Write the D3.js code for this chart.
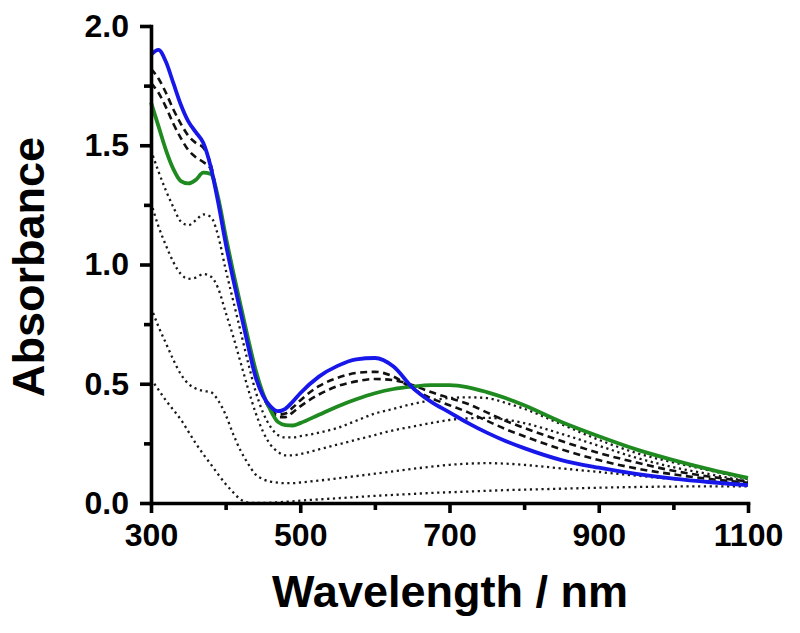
<!DOCTYPE html>
<html><head><meta charset="utf-8">
<script src="https://cdn.jsdelivr.net/npm/d3@7"></script>
<style>body{margin:0;background:#fff}</style>
</head><body><svg id="c" width="800" height="633"></svg>
<script>
// ---- data ----
const wavelengths = [300,310,320,330,340,350,360,370,380,390,400,410,420,430,440,450,460,470,480,490,500,525,550,575,600,625,650,675,700,725,750,775,800,850,900,950,1000,1050,1100];
const blueSeries   = [1.88,1.90,1.85,1.76,1.67,1.60,1.555,1.51,1.41,1.26,1.09,0.94,0.80,0.66,0.53,0.45,0.405,0.385,0.395,0.425,0.46,0.53,0.575,0.602,0.608,0.572,0.485,0.425,0.38,0.335,0.295,0.26,0.23,0.18,0.148,0.122,0.102,0.087,0.075];
const greenSeries  = [1.68,1.58,1.48,1.40,1.35,1.34,1.355,1.385,1.38,1.28,1.12,0.97,0.83,0.69,0.56,0.46,0.39,0.34,0.327,0.325,0.335,0.37,0.405,0.435,0.46,0.478,0.488,0.494,0.494,0.485,0.465,0.44,0.41,0.34,0.28,0.225,0.18,0.14,0.105];
const dashedA      = [1.82,1.78,1.72,1.65,1.59,1.54,1.51,1.49,1.42,1.27,1.10,0.95,0.81,0.67,0.54,0.45,0.395,0.37,0.375,0.40,0.43,0.49,0.525,0.545,0.55,0.53,0.48,0.44,0.41,0.38,0.345,0.31,0.28,0.225,0.18,0.145,0.12,0.10,0.085];
const dashedB      = [1.76,1.72,1.66,1.59,1.53,1.48,1.45,1.43,1.40,1.27,1.11,0.96,0.82,0.68,0.55,0.45,0.39,0.36,0.36,0.38,0.405,0.455,0.49,0.51,0.52,0.515,0.495,0.465,0.44,0.415,0.38,0.345,0.315,0.26,0.21,0.17,0.135,0.11,0.09];
const dotted1      = [1.48,1.39,1.31,1.24,1.18,1.165,1.185,1.21,1.20,1.12,0.98,0.85,0.72,0.59,0.47,0.38,0.32,0.285,0.275,0.275,0.28,0.295,0.315,0.345,0.375,0.395,0.415,0.43,0.44,0.443,0.44,0.42,0.395,0.33,0.265,0.21,0.17,0.135,0.10];
const dotted2      = [1.26,1.16,1.08,1.01,0.96,0.94,0.945,0.96,0.95,0.90,0.80,0.70,0.59,0.48,0.38,0.30,0.245,0.215,0.20,0.20,0.205,0.225,0.245,0.265,0.285,0.305,0.32,0.335,0.348,0.355,0.357,0.35,0.335,0.29,0.24,0.19,0.15,0.12,0.09];
const dotted3      = [0.82,0.74,0.67,0.60,0.54,0.50,0.48,0.47,0.465,0.43,0.37,0.29,0.22,0.165,0.12,0.10,0.09,0.085,0.083,0.083,0.086,0.094,0.103,0.113,0.123,0.133,0.143,0.152,0.16,0.165,0.167,0.165,0.16,0.145,0.13,0.115,0.10,0.09,0.08];
const dotted4      = [0.52,0.475,0.43,0.39,0.35,0.30,0.25,0.205,0.163,0.12,0.08,0.045,0.015,0.002,0,0,0.001,0.003,0.005,0.007,0.01,0.015,0.02,0.025,0.03,0.034,0.038,0.042,0.045,0.048,0.051,0.054,0.056,0.06,0.064,0.067,0.069,0.07,0.07];

const xTicks = [300,500,700,900,1100];
const xMinorTicks = [400,600,800,1000];
const yTicks = [0,0.5,1.0,1.5,2.0];
const yMinorTicks = [0.25,0.75,1.25,1.75];
const xTitle = "Wavelength / nm";
const yTitle = "Absorbance";

// ---- chart ----
const svg = d3.select("#c");
svg.append("rect").attr("width",800).attr("height",633).attr("fill","#fff");
const x = d3.scaleLinear().domain([300,1100]).range([151,748]);
const y = d3.scaleLinear().domain([0,2]).range([503,26]);
const FONT = "'Liberation Sans', Arial, Helvetica, sans-serif";

const line = d3.line().x(d=>x(d[0])).y(d=>y(d[1])).curve(d3.curveMonotoneX);
const series = [
  {v: dotted4, stroke:"#1a1a1a", w:2.3, dash:"2.2,3.6"},
  {v: dotted3, stroke:"#1a1a1a", w:2.3, dash:"2.2,3.6"},
  {v: dotted2, stroke:"#1a1a1a", w:2.3, dash:"2.2,3.6"},
  {v: dotted1, stroke:"#1a1a1a", w:2.3, dash:"2.2,3.6"},
  {v: dashedB, stroke:"#111", w:2.6, dash:"7,4.5"},
  {v: dashedA, stroke:"#111", w:2.6, dash:"7,4.5"},
  {v: greenSeries, stroke:"#1f8a1f", w:3.8, dash:null},
  {v: blueSeries, stroke:"#1717ea", w:3.8, dash:null}
];
svg.append("g").selectAll("path").data(series).join("path")
  .attr("d", s => line(wavelengths.map((w,i)=>[w, s.v[i]])))
  .attr("fill","none")
  .attr("stroke", s=>s.stroke)
  .attr("stroke-width", s=>s.w)
  .attr("stroke-dasharray", s=>s.dash)
  .attr("stroke-linejoin","round");

function styleAxis(g){
  g.select(".domain").attr("stroke","#000").attr("stroke-width",3.6).attr("stroke-linecap","square");
  g.selectAll(".tick line").attr("stroke","#000").attr("stroke-width",3.6);
  g.selectAll("text").attr("font-family",FONT).attr("font-weight","bold").attr("font-size",32).attr("fill","#000");
}

// minor ticks
svg.append("g").attr("transform","translate(0,503)")
  .call(d3.axisBottom(x).tickValues(xMinorTicks).tickSize(7).tickFormat("").tickSizeOuter(0))
  .call(g=>{g.select(".domain").remove(); g.selectAll(".tick line").attr("stroke","#000").attr("stroke-width",3.6);});
svg.append("g").attr("transform","translate(151,0)")
  .call(d3.axisLeft(y).tickValues(yMinorTicks).tickSize(7).tickFormat("").tickSizeOuter(0))
  .call(g=>{g.select(".domain").remove(); g.selectAll(".tick line").attr("stroke","#000").attr("stroke-width",3.6);});

// major axes
svg.append("g").attr("transform","translate(0,503)")
  .call(d3.axisBottom(x).tickValues(xTicks).tickSize(10).tickPadding(10).tickSizeOuter(0).tickFormat(d3.format("d")))
  .call(styleAxis);
svg.append("g").attr("transform","translate(151,0)")
  .call(d3.axisLeft(y).tickValues(yTicks).tickSize(11).tickPadding(11).tickSizeOuter(0).tickFormat(d3.format(".1f")))
  .call(styleAxis);

// titles
svg.append("text").attr("x",450).attr("y",607).attr("text-anchor","middle")
  .attr("font-family",FONT).attr("font-weight","bold").attr("font-size",45).text(xTitle);
svg.append("text").attr("transform","translate(44,267) rotate(-90)").attr("text-anchor","middle")
  .attr("font-family",FONT).attr("font-weight","bold").attr("font-size",45).text(yTitle);
</script></body></html>
